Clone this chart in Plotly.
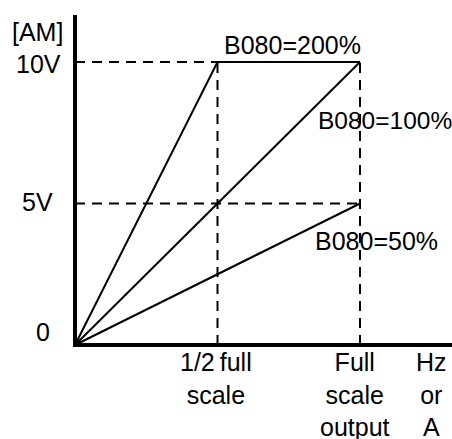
import plotly.graph_objects as go

# --- data ---
curve_names = ["B080=200%", "B080=100%", "B080=50%"]
curve_x = [[0, 0.5, 1], [0, 1], [0, 1]]
curve_y = [[0, 10, 10], [0, 10], [0, 5]]

guide_x = [[0, 1], [0.5, 0.5], [0, 1], [1, 1]]
guide_y = [[10, 10], [0, 10], [5, 5], [0, 10]]

axis_x = [0, 0, 1.33]
axis_y = [11.66, 0, 0]

y_tick_vals = [0, 5, 10]
y_tick_text = ["0", "5V", "10V"]
x_label_pos = [0.496, 0.982, 1.25]
x_label_text = ["1/2\u2009full<br>scale", "Full<br>scale<br>output", "Hz<br>or<br>A"]

W, H = 452, 439
X0, Y0, XS, YS = 75, 345, 285, 28.3   # pixel origin / scale used to set the ranges
FONT = dict(family="Liberation Sans, Arial, sans-serif", size=25, color="black")

fig = go.Figure()

fig.add_trace(go.Scatter(x=axis_x, y=axis_y, mode="lines", showlegend=False,
                         line=dict(color="black", width=4)))

for gx, gy in zip(guide_x, guide_y):
    fig.add_trace(go.Scatter(x=gx, y=gy, mode="lines", showlegend=False,
                             line=dict(color="black", width=2, dash="10px,7px")))

for name, cx, cy in zip(curve_names, curve_x, curve_y):
    fig.add_trace(go.Scatter(x=cx, y=cy, mode="lines", name=name, showlegend=False,
                             line=dict(color="black", width=2)))

# curve labels
fig.add_annotation(x=0.516, y=10.6, text=curve_names[0], xanchor="left", showarrow=False)
fig.add_annotation(x=0.845, y=7.95, text=curve_names[1], xanchor="left", showarrow=False,
                   font=dict(size=24.5))
fig.add_annotation(x=0.835, y=3.67, text=curve_names[2], xanchor="left", showarrow=False)

# y labels
fig.add_annotation(x=-0.042, y=y_tick_vals[2] - 0.07, text=y_tick_text[2], xanchor="right", showarrow=False)
fig.add_annotation(x=-0.070, y=y_tick_vals[1] + 0.05, text=y_tick_text[1], xanchor="right", showarrow=False)
fig.add_annotation(x=-0.112, y=y_tick_vals[0] + 0.46, text=y_tick_text[0], xanchor="center", showarrow=False)
fig.add_annotation(x=-0.133, y=11.06, text="[AM]", xanchor="center", showarrow=False)

# x labels
for xv, t in zip(x_label_pos, x_label_text):
    fig.add_annotation(x=xv, y=-0.03, text=t, xanchor="center", yanchor="top", showarrow=False)

fig.update_layout(
    width=W, height=H, margin=dict(l=0, r=0, t=0, b=0),
    plot_bgcolor="white", paper_bgcolor="white", font=FONT,
    xaxis=dict(range=[-X0 / XS, (W - X0) / XS], visible=False),
    yaxis=dict(range=[(Y0 - H) / YS, Y0 / YS], visible=False),
)

# drop the default page margin so the figure sits at the window's corner
fig.write_html("out.html", config={"displayModeBar": False},
               post_script="document.body.style.margin='0';")
